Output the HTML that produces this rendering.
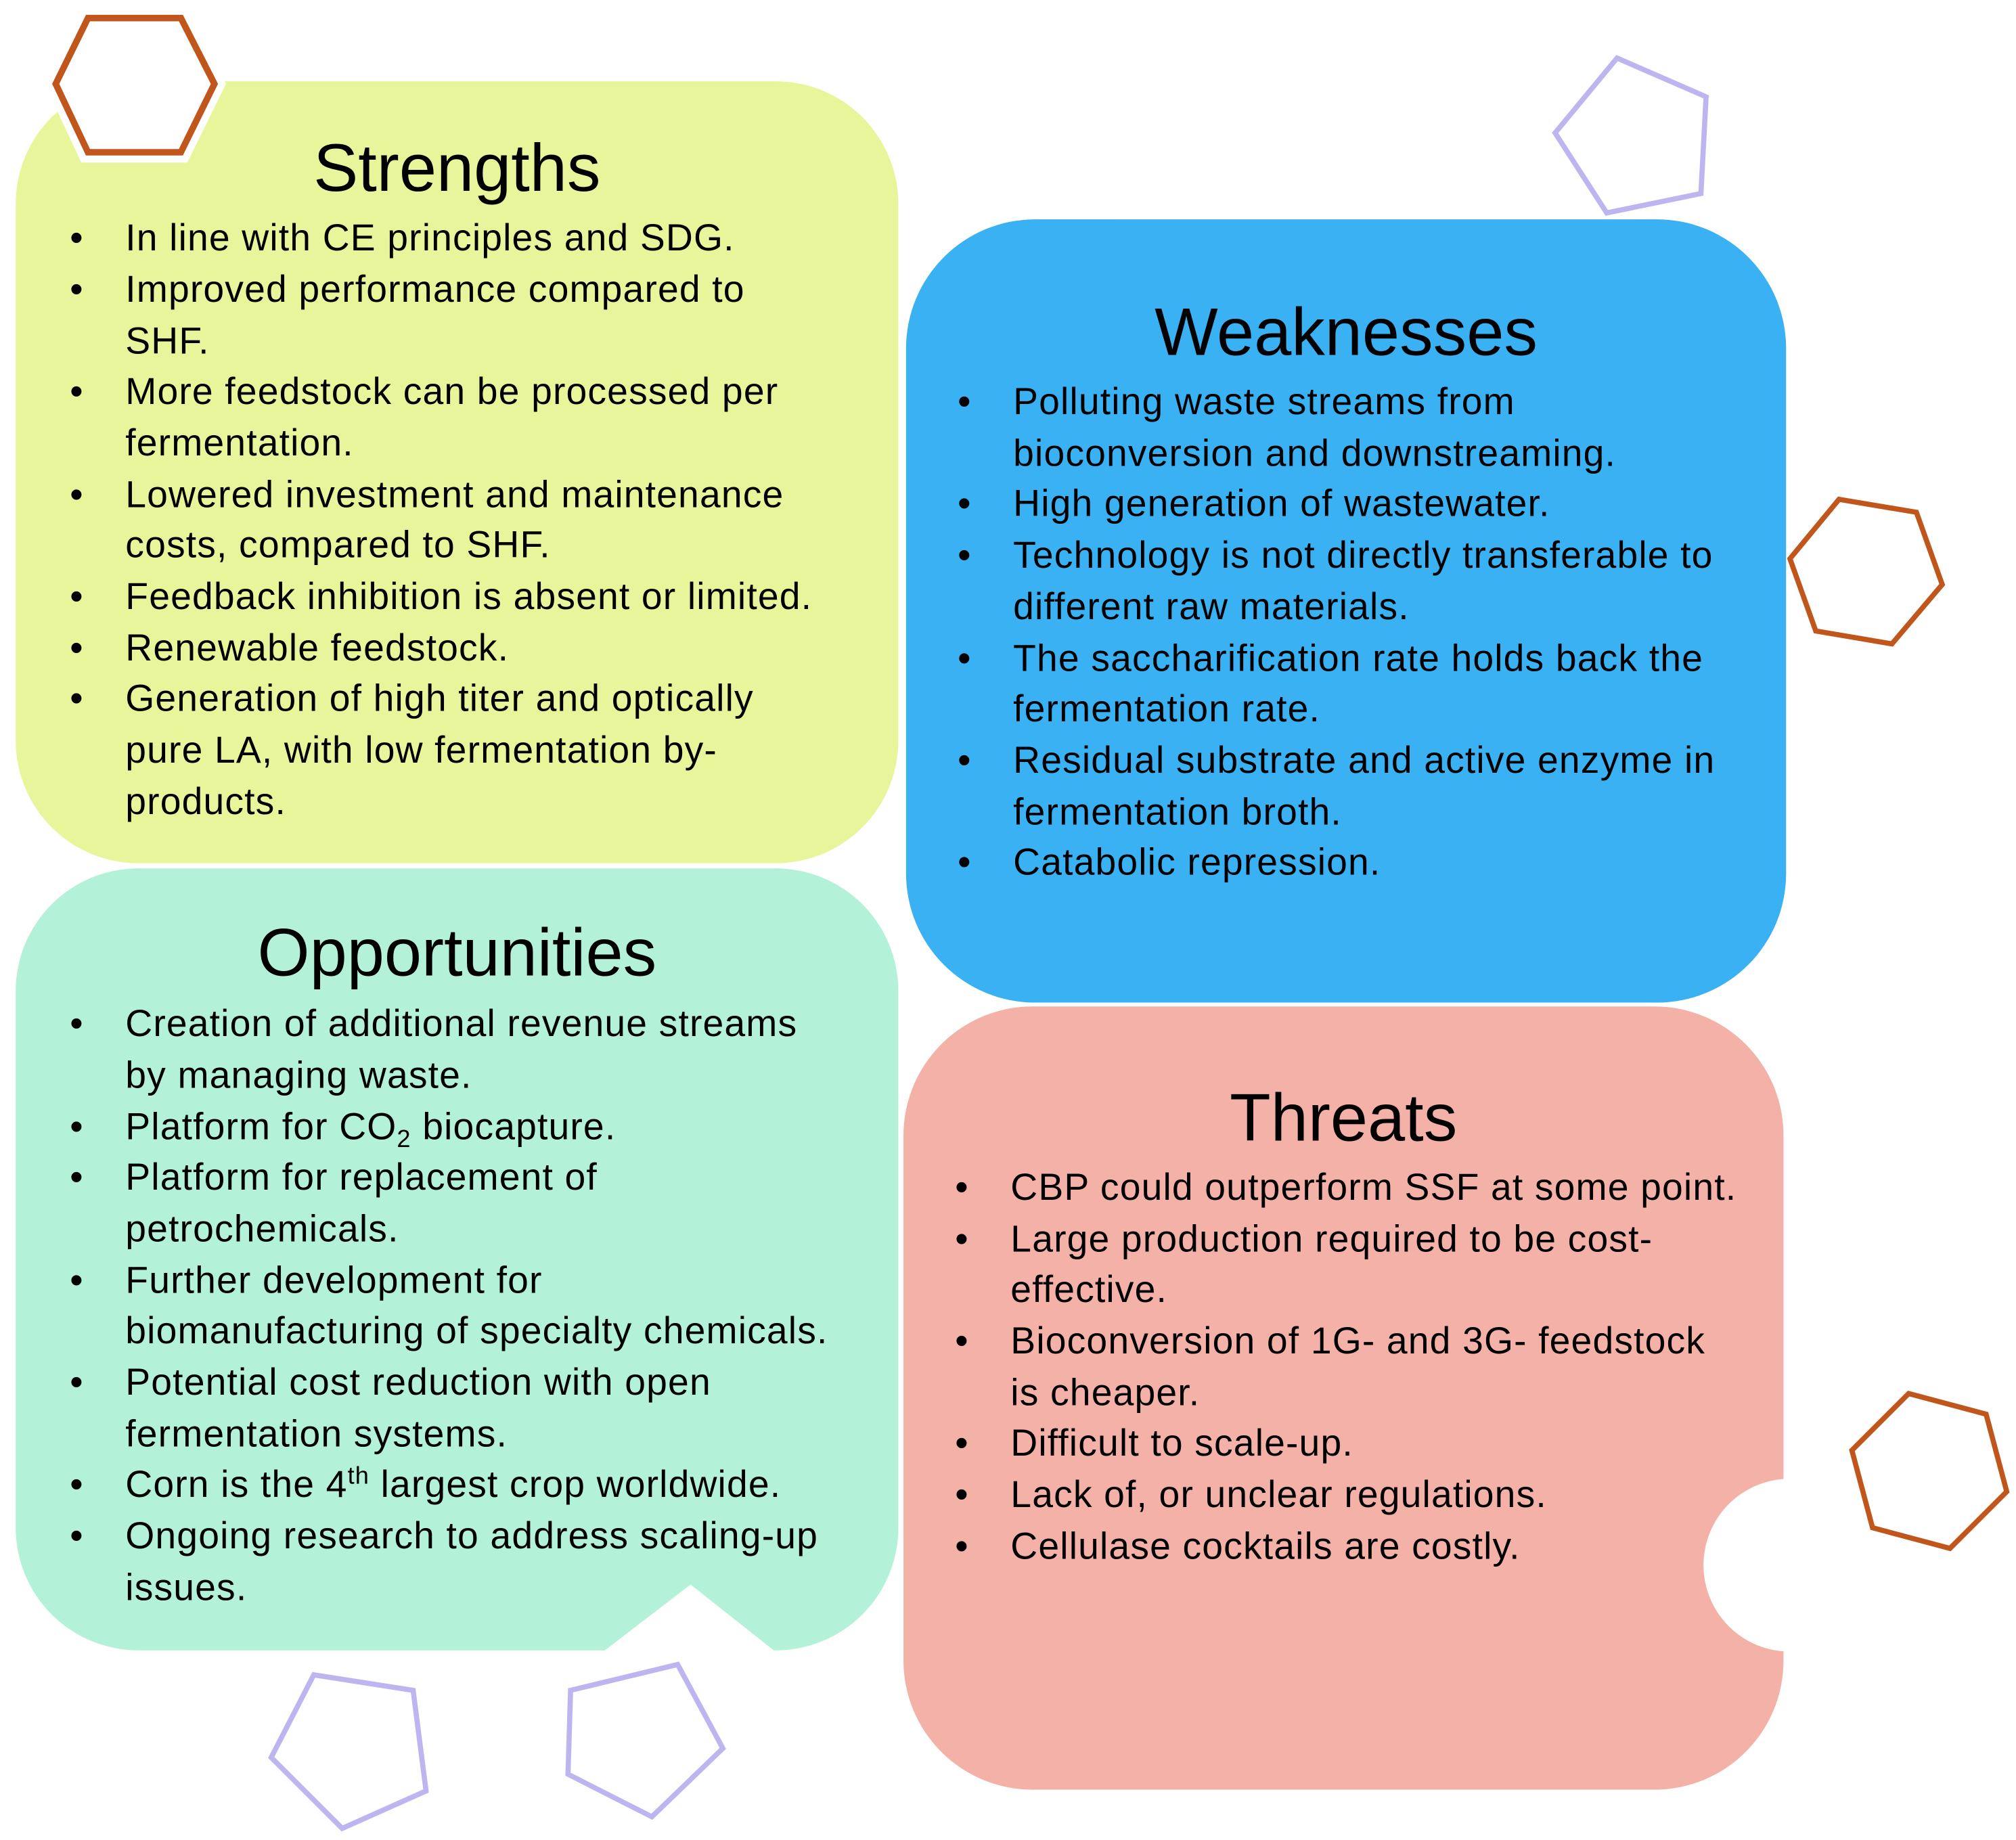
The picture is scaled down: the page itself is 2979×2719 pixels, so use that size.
<!DOCTYPE html>
<html><head><meta charset="utf-8"><style>html,body{margin:0;padding:0;background:#fff}svg{display:block}</style></head>
<body>
<svg width="2979" height="2719" viewBox="0 0 1562 1426" xmlns="http://www.w3.org/2000/svg" font-family="'Liberation Sans', sans-serif">
<rect width="1562" height="1426" fill="#fff"/>
<rect x="12" y="63" width="684" height="606" rx="95" fill="#E9F59B"/>
<rect x="702" y="170" width="682" height="607" rx="100" fill="#39B1F3"/>
<rect x="12" y="673" width="684" height="606" rx="95" fill="#B3F2D9"/>
<polygon points="466,1281 535,1228 602,1281" fill="#fff"/>
<rect x="700" y="780" width="682" height="607" rx="100" fill="#F3B1A7"/>
<circle cx="1387" cy="1213" r="67" fill="#fff"/>

<polygon points="43,65 68,14 140,14 166,65 140,118 68,118" fill="none" stroke="#fff" stroke-width="16"/>
<polygon points="43,65 68,14 140,14 166,65 140,118 68,118" fill="#fff" stroke="#C0561B" stroke-width="5"/>
<polygon points="1505,453 1466,499 1407,489 1387,433 1425,387 1485,397" fill="none" stroke="#C0561B" stroke-width="4"/>
<polygon points="1555,1156 1511,1200 1451,1184 1435,1124 1479,1080 1539,1096" fill="none" stroke="#C0561B" stroke-width="4"/>
<polygon points="1205,103 1253,45 1322,75 1318,150 1245,165" fill="none" stroke="#BDB5F0" stroke-width="4"/>
<polygon points="210,1362 243,1298 320,1310 330,1388 265,1417" fill="none" stroke="#BDB5F0" stroke-width="4"/>
<polygon points="442,1310 525,1290 560,1355 505,1408 440,1375" fill="none" stroke="#BDB5F0" stroke-width="4"/>

<g fill="#000" font-size="52">
<text x="354" y="148" text-anchor="middle">Strengths</text>
<text x="1043" y="275" text-anchor="middle">Weaknesses</text>
<text x="354" y="756" text-anchor="middle">Opportunities</text>
<text x="1041" y="884" text-anchor="middle">Threats</text>
</g>

<g font-size="29" letter-spacing="0.6" fill="#000">
<g>
<text x="54" y="194">•</text><text x="97" y="194">In line with CE principles and SDG.</text>
<text x="54" y="234">•</text><text x="97" y="234">Improved performance compared to</text>
<text x="97" y="274">SHF.</text>
<text x="54" y="313">•</text><text x="97" y="313">More feedstock can be processed per</text>
<text x="97" y="353">fermentation.</text>
<text x="54" y="393">•</text><text x="97" y="393">Lowered investment and maintenance</text>
<text x="97" y="432">costs, compared to SHF.</text>
<text x="54" y="472">•</text><text x="97" y="472">Feedback inhibition is absent or limited.</text>
<text x="54" y="512">•</text><text x="97" y="512">Renewable feedstock.</text>
<text x="54" y="551">•</text><text x="97" y="551">Generation of high titer and optically</text>
<text x="97" y="591">pure LA, with low fermentation by-</text>
<text x="97" y="631">products.</text>
</g>
<g>
<text x="742" y="321">•</text><text x="785" y="321">Polluting waste streams from</text>
<text x="785" y="361">bioconversion and downstreaming.</text>
<text x="742" y="400">•</text><text x="785" y="400">High generation of wastewater.</text>
<text x="742" y="440">•</text><text x="785" y="440">Technology is not directly transferable to</text>
<text x="785" y="480">different raw materials.</text>
<text x="742" y="520">•</text><text x="785" y="520">The saccharification rate holds back the</text>
<text x="785" y="559">fermentation rate.</text>
<text x="742" y="599">•</text><text x="785" y="599">Residual substrate and active enzyme in</text>
<text x="785" y="639">fermentation broth.</text>
<text x="742" y="678">•</text><text x="785" y="678">Catabolic repression.</text>
</g>
<g>
<text x="54" y="803">•</text><text x="97" y="803">Creation of additional revenue streams</text>
<text x="97" y="843">by managing waste.</text>
<text x="54" y="883">•</text><text x="97" y="883">Platform for CO<tspan font-size="19" dy="6">2</tspan><tspan dy="-6"> biocapture.</tspan></text>
<text x="54" y="922">•</text><text x="97" y="922">Platform for replacement of</text>
<text x="97" y="962">petrochemicals.</text>
<text x="54" y="1002">•</text><text x="97" y="1002">Further development for</text>
<text x="97" y="1041">biomanufacturing of specialty chemicals.</text>
<text x="54" y="1081">•</text><text x="97" y="1081">Potential cost reduction with open</text>
<text x="97" y="1121">fermentation systems.</text>
<text x="54" y="1160">•</text><text x="97" y="1160">Corn is the 4<tspan font-size="19" dy="-10">th</tspan><tspan dy="10"> largest crop worldwide.</tspan></text>
<text x="54" y="1200">•</text><text x="97" y="1200">Ongoing research to address scaling-up</text>
<text x="97" y="1240">issues.</text>
</g>
<g>
<text x="740" y="930">•</text><text x="783" y="930">CBP could outperform SSF at some point.</text>
<text x="740" y="970">•</text><text x="783" y="970">Large production required to be cost-</text>
<text x="783" y="1009">effective.</text>
<text x="740" y="1049">•</text><text x="783" y="1049">Bioconversion of 1G- and 3G- feedstock</text>
<text x="783" y="1089">is cheaper.</text>
<text x="740" y="1128">•</text><text x="783" y="1128">Difficult to scale-up.</text>
<text x="740" y="1168">•</text><text x="783" y="1168">Lack of, or unclear regulations.</text>
<text x="740" y="1208">•</text><text x="783" y="1208">Cellulase cocktails are costly.</text>
</g>
</g>
</svg>
</body></html>
